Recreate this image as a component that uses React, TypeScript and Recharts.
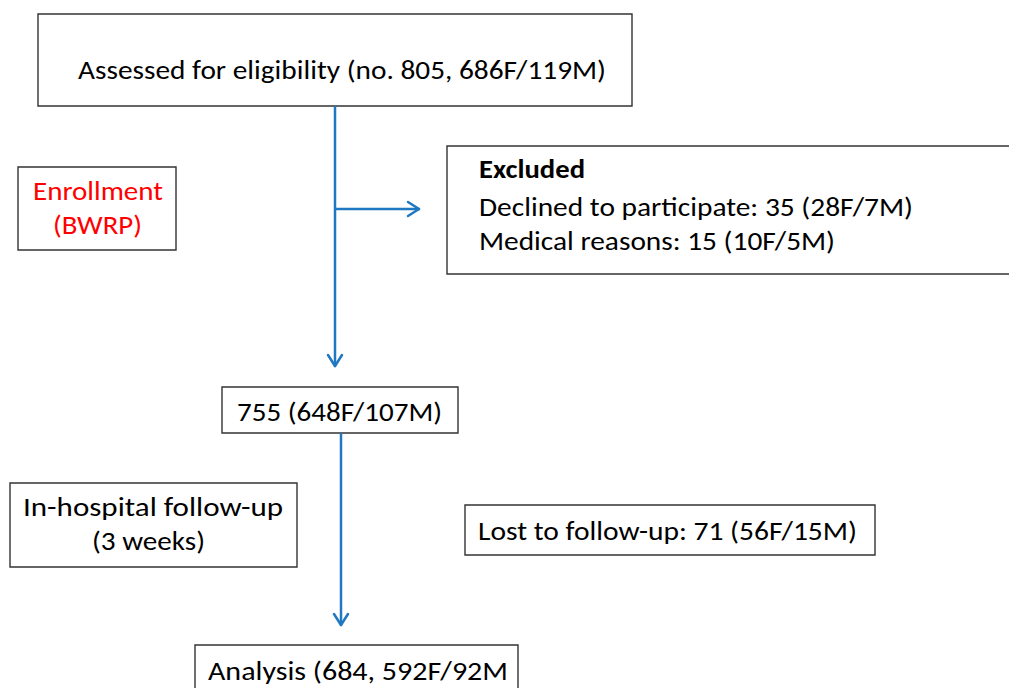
import React from 'react';
import { ComposedChart, XAxis, YAxis, ReferenceArea, ReferenceLine } from 'recharts';

// ---- content (from the reference) ----
const stageNames = ['Assessed for eligibility', '', 'Analysis'];
const stageTotals = [805, 755, 684];
const stageFemale = [686, 648, 592];
const stageMale = [119, 107, 92];
const excludedReasons = ['Declined to participate', 'Medical reasons'];
const excludedTotals = [35, 15];
const excludedFemale = [28, 10];
const excludedMale = [7, 5];
const lostCounts = [71, 56, 15];
const phaseLabels = [['Enrollment', '(BWRP)'], ['In-hospital follow-up', '(3 weeks)']];

// ---- text built from the content ----
const assessedText = `${stageNames[0]} (no. ${stageTotals[0]}, ${stageFemale[0]}F/${stageMale[0]}M)`;
const midText = `${stageTotals[1]} (${stageFemale[1]}F/${stageMale[1]}M)`;
const analysisText = `${stageNames[2]} (${stageTotals[2]}, ${stageFemale[2]}F/${stageMale[2]}M`;
const excludedLines = excludedReasons.map(
  (r, i) => `${r}: ${excludedTotals[i]} (${excludedFemale[i]}F/${excludedMale[i]}M)`
);
const lostText = `Lost to follow-up: ${lostCounts[0]} (${lostCounts[1]}F/${lostCounts[2]}M)`;

// ---- layout (pixel-like data coordinates) ----
const W = 1009;
const H = 688;
const FONT = "Carlito, Calibri, Lato, 'Open Sans', sans-serif";
const BOX_STROKE = '#333333';
const ARROW = '#1f78c1';

type Line = { text: string; x: number; y: number; w: number; bold?: boolean; color?: string };
type Box = { x1: number; x2: number; y1: number; y2: number; lines: Line[] };

const boxes: Box[] = [
  { x1: 38, x2: 632, y1: 14, y2: 106, lines: [{ text: assessedText, x: 78, y: 79, w: 528 }] },
  {
    x1: 447, x2: 1030, y1: 146, y2: 274,
    lines: [
      { text: 'Excluded', x: 479, y: 178, w: 106, bold: true },
      { text: excludedLines[0], x: 479, y: 216, w: 434 },
      { text: excludedLines[1], x: 479, y: 250, w: 356 },
    ],
  },
  {
    x1: 18, x2: 176, y1: 167, y2: 250,
    lines: [
      { text: phaseLabels[0][0], x: 33, y: 200, w: 130, color: '#ff0000' },
      { text: phaseLabels[0][1], x: 53, y: 234, w: 89, color: '#ff0000' },
    ],
  },
  { x1: 222, x2: 458, y1: 387, y2: 433, lines: [{ text: midText, x: 237, y: 421, w: 205 }] },
  {
    x1: 10, x2: 297, y1: 483, y2: 567,
    lines: [
      { text: phaseLabels[1][0], x: 23, y: 516, w: 260 },
      { text: phaseLabels[1][1], x: 92, y: 550, w: 113 },
    ],
  },
  { x1: 465, x2: 875, y1: 505, y2: 555, lines: [{ text: lostText, x: 478, y: 540, w: 379 }] },
  { x1: 195, x2: 518, y1: 645, y2: 720, lines: [{ text: analysisText, x: 208, y: 680, w: 300 }] },
];

type Seg = { x1: number; y1: number; x2: number; y2: number };
const arrows: { seg: Seg; dir: 'down' | 'right' }[] = [
  { seg: { x1: 335, y1: 106, x2: 335, y2: 366 }, dir: 'down' },
  { seg: { x1: 335, y1: 209, x2: 419, y2: 209 }, dir: 'right' },
  { seg: { x1: 341, y1: 433, x2: 341, y2: 625 }, dir: 'down' },
];

function BoxText(props: any) {
  const { viewBox, box } = props;
  const vb = viewBox || { x: box.x1, y: box.y1 };
  const ox = vb.x - box.x1;
  const oy = vb.y - box.y1;
  return (
    <g>
      {box.lines.map((l: Line, i: number) => (
        <text
          key={i}
          x={l.x + ox}
          y={l.y + oy}
          fontFamily={FONT}
          fontSize={26}
          fontWeight={l.bold ? 700 : 400}
          fill={l.color || '#000'}
          textLength={l.w}
          lengthAdjust="spacingAndGlyphs"
        >
          {l.text}
        </text>
      ))}
    </g>
  );
}

function arrowHeadSegs(a: { seg: Seg; dir: 'down' | 'right' }) {
  const { x2, y2 } = a.seg;
  const L = 11;
  const S = 7;
  if (a.dir === 'down') {
    return [
      [{ x: x2 - S, y: y2 - L }, { x: x2, y: y2 }],
      [{ x: x2 + S, y: y2 - L }, { x: x2, y: y2 }],
    ];
  }
  return [
    [{ x: x2 - L, y: y2 - S }, { x: x2, y: y2 }],
    [{ x: x2 - L, y: y2 + S }, { x: x2, y: y2 }],
  ];
}

export default function App() {
  return (
    <div style={{ position: 'absolute', left: 0, top: 0, width: W, height: H, background: '#fff' }}>
      <ComposedChart width={W} height={H} data={[{ x: 0, y: 0 }]} margin={{ top: 0, right: 0, bottom: 0, left: 0 }}>
        <XAxis dataKey="x" type="number" domain={[0, W]} hide allowDataOverflow />
        <YAxis dataKey="y" type="number" domain={[0, H]} reversed hide allowDataOverflow />
        {arrows.map((a, i) => (
          <ReferenceLine
            key={`l${i}`}
            segment={[{ x: a.seg.x1, y: a.seg.y1 }, { x: a.seg.x2, y: a.seg.y2 }]}
            stroke={ARROW}
            strokeWidth={2.5}
            ifOverflow="visible"
          />
        ))}
        {arrows.flatMap((a, i) =>
          arrowHeadSegs(a).map((s, j) => (
            <ReferenceLine
              key={`h${i}-${j}`}
              segment={s}
              stroke={ARROW}
              strokeWidth={2.5}
              strokeLinecap="round"
              ifOverflow="visible"
            />
          ))
        )}
        {boxes.map((b, i) => (
          <ReferenceArea
            key={`b${i}`}
            x1={b.x1}
            x2={b.x2}
            y1={b.y1}
            y2={b.y2}
            fill="#ffffff"
            fillOpacity={1}
            stroke={BOX_STROKE}
            strokeWidth={1.4}
            ifOverflow="visible"
            label={<BoxText box={b} />}
          />
        ))}
      </ComposedChart>
    </div>
  );
}
